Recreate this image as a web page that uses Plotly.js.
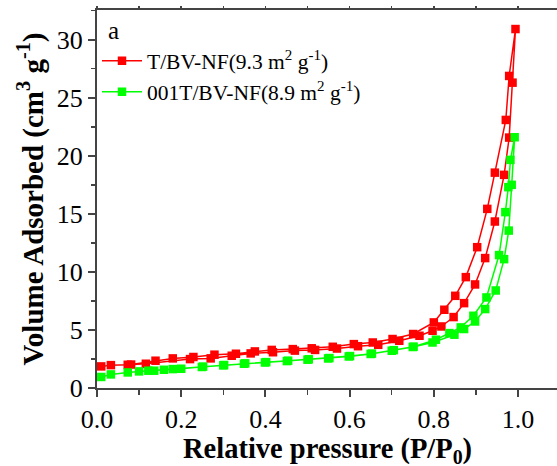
<!DOCTYPE html>
<html>
<head>
<meta charset="utf-8">
<script src="https://cdn.plot.ly/plotly-3.0.1.min.js"></script>
<style>
html,body{margin:0;padding:0;background:#fff;}
#chart{width:557px;height:466px;}
</style>
</head>
<body>
<div id="chart"></div>
<script>
// Red: T/BV-NF — adsorption branch then desorption branch
const redAdsX = [0.010,0.033,0.073,0.116,0.221,0.270,0.320,0.365,0.418,0.470,0.518,0.570,0.620,0.668,0.718,0.766,0.797,0.818,0.847,0.872,0.898,0.922,0.945,0.967,0.979,0.987,0.994];
const redAdsY = [1.86,1.97,2.00,2.09,2.49,2.55,2.78,2.98,3.08,3.22,3.28,3.40,3.60,3.72,4.07,4.50,4.93,5.30,6.11,7.31,8.92,11.19,14.34,18.36,21.57,26.30,30.92];
const redDesX = [0.979,0.971,0.945,0.927,0.903,0.876,0.851,0.825,0.800,0.751,0.702,0.655,0.610,0.560,0.510,0.465,0.415,0.375,0.330,0.279,0.229,0.180,0.139,0.081];
const redDesY = [26.88,23.09,18.55,15.43,12.13,9.55,7.94,6.74,5.65,4.65,4.22,3.92,3.78,3.55,3.42,3.35,3.28,3.15,2.95,2.87,2.67,2.55,2.35,2.02];

// Green: 001T/BV-NF — adsorption branch then desorption branch
const greenAdsX = [0.010,0.033,0.073,0.100,0.180,0.249,0.300,0.349,0.399,0.451,0.500,0.549,0.598,0.650,0.700,0.750,0.797,0.849,0.872,0.898,0.922,0.947,0.967,0.978,0.985,0.992];
const greenAdsY = [0.95,1.17,1.34,1.43,1.63,1.81,1.95,2.09,2.20,2.32,2.44,2.55,2.72,2.93,3.21,3.53,3.92,4.59,5.08,5.73,6.80,8.40,11.10,13.56,17.50,21.60];
const greenDesX = [0.982,0.977,0.970,0.955,0.925,0.894,0.864,0.837,0.805,0.752,0.705,0.653,0.601,0.552,0.503,0.454,0.402,0.352,0.302,0.252,0.200,0.159,0.136,0.122];
const greenDesY = [19.65,17.30,15.15,11.45,7.80,6.22,5.22,4.73,4.16,3.56,3.26,2.96,2.75,2.58,2.47,2.35,2.23,2.12,1.98,1.84,1.66,1.57,1.49,1.49];

const seriesNames = ['T/BV-NF(9.3 m<sup>2</sup> g<sup>-1</sup>)', '001T/BV-NF(8.9 m<sup>2</sup> g<sup>-1</sup>)'];
const xTickVals = [0.0,0.2,0.4,0.6,0.8,1.0];
const yTickVals = [0,5,10,15,20,25,30];
const xTitle = '<b>Relative pressure (P/P<sub>0</sub>)</b>';
const yTitle = '<b>Volume Adsorbed (cm<sup>3</sup> g<sup>-1</sup>)</b>';

const FONT = '"Liberation Serif", "Times New Roman", serif';

const traces = [
  {
    x: redAdsX.concat(redDesX), y: redAdsY.concat(redDesY),
    name: seriesNames[0], type: 'scatter', mode: 'lines+markers',
    line: {color: '#ff0000', width: 1.5},
    marker: {symbol: 'square', size: 8.5, color: '#ff0000'}
  },
  {
    x: greenAdsX.concat(greenDesX), y: greenAdsY.concat(greenDesY),
    name: seriesNames[1], type: 'scatter', mode: 'lines+markers',
    line: {color: '#00ff00', width: 1.5},
    marker: {symbol: 'square', size: 8.5, color: '#00ff00'}
  },
  { x: [], y: [], xaxis: 'x2', yaxis: 'y', showlegend: false, hoverinfo: 'skip' }
];

const layout = {
  width: 557, height: 466,
  margin: {l: 97, r: 0, t: 10, b: 78},
  paper_bgcolor: '#fff', plot_bgcolor: '#fff',
  font: {family: FONT, color: '#000'},
  showlegend: true,
  legend: {
    x: 0.0, y: 0.92, xanchor: 'left', yanchor: 'top',
    font: {family: FONT, size: 21.5, color: '#000'},
    bgcolor: 'rgba(0,0,0,0)', tracegroupgap: 0, itemwidth: 40
  },
  xaxis: {
    range: [0, 1.0926], tickvals: xTickVals, tickformat: '.1f',
    ticks: 'outside', ticklen: 7, tickwidth: 2, tickcolor: '#444',
    minor: {dtick: 0.1, tick0: 0, ticks: 'outside', ticklen: 5, tickwidth: 1.5, tickcolor: '#444'},
    showline: true, linecolor: '#444', linewidth: 2, showgrid: false, zeroline: false,
    tickfont: {family: FONT, size: 26, color: '#000'}
  },
  xaxis2: {
    overlaying: 'x', side: 'top', matches: 'x', range: [0, 1.0926],
    tick0: 0, dtick: 0.1, ticks: 'outside', ticklen: 2, tickwidth: 1.5, tickcolor: '#444',
    showticklabels: false, showline: true, linecolor: '#444', linewidth: 2, showgrid: false, zeroline: false
  },
  yaxis: {
    range: [0, 32.56], tickvals: yTickVals,
    ticks: 'outside', ticklen: 7, tickwidth: 2, tickcolor: '#444',
    minor: {dtick: 2.5, tick0: 0, ticks: 'outside', ticklen: 4, tickwidth: 1.5, tickcolor: '#444'},
    showline: true, linecolor: '#444', linewidth: 2, showgrid: false, zeroline: false,
    tickfont: {family: FONT, size: 26, color: '#000'},
    title: {text: yTitle, font: {family: FONT, size: 29, color: '#000'}, standoff: 5}
  },
  annotations: [
    {text: 'a', xref: 'paper', yref: 'paper', x: 0.020, y: 0.945, xanchor: 'left', yanchor: 'middle',
     showarrow: false, font: {family: FONT, size: 25, color: '#000'}},
    {text: xTitle, xref: 'paper', yref: 'paper', x: 0.5, y: -0.113, xanchor: 'center', yanchor: 'top',
     showarrow: false, font: {family: FONT, size: 28.5, color: '#000'}}
  ]
};

Plotly.newPlot('chart', traces, layout, {displayModeBar: false, staticPlot: true});
</script>
</body>
</html>
